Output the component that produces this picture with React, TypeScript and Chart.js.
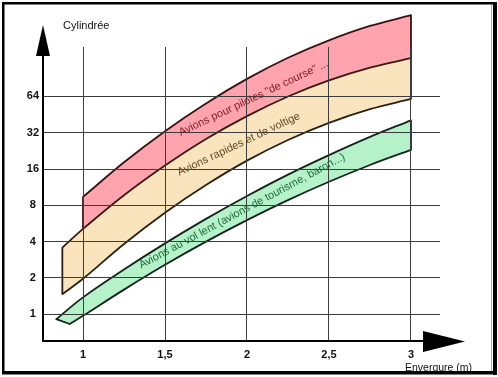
import React, { useEffect, useRef } from 'react';
import { Chart, registerables } from 'chart.js';

Chart.register(...registerables);

const FONT = '"Liberation Sans", Arial, Helvetica, sans-serif';

// x = wingspan (m), y = engine displacement (cm3), log2 axis
const spanX = [1, 1.25, 1.5, 1.75, 2, 2.25, 2.5, 2.75, 3];
const redUpper = [9.4, 18.2, 33, 56, 89.5, 134, 187, 246, 302];
const redLower = [5.1, 9.7, 17.1, 28.4, 44, 64, 87, 111, 133];

const beigeUpperX = [0.874, 1, 1.25, 1.5, 1.75, 2, 2.25, 2.5, 2.75, 3];
const beigeUpper = [3.57, 5.1, 9.7, 17.1, 28.4, 44, 64, 87, 111, 133];
const beigeLowerX = [0.874, 1, 1.25, 1.5, 1.75, 2, 2.25, 2.5, 2.75, 3];
const beigeLower = [1.47, 1.97, 3.83, 6.96, 11.8, 18.8, 27.9, 38.7, 50.3, 61.1];

const greenUpperX = [0.837, 1, 1.25, 1.5, 1.75, 2, 2.25, 2.5, 2.75, 3];
const greenUpper = [0.91, 1.38, 2.35, 3.87, 6.18, 9.57, 14.4, 20.9, 29.6, 40.6];
const greenLowerX = [0.919, 1, 1.25, 1.5, 1.75, 2, 2.25, 2.5, 2.75, 3];
const greenLower = [0.83, 0.97, 1.6, 2.57, 4.0, 6.03, 8.84, 12.55, 17.3, 23.1];

const xTicks = [1, 1.5, 2, 2.5, 3];
const xTickLabels = ['1', '1,5', '2', '2,5', '3'];
const yTicks = [1, 2, 4, 8, 16, 32, 64];
const yTickLabels = ['1', '2', '4', '8', '16', '32', '64'];

const bandTexts = [
  'Avions pour pilotes "de course" ...',
  'Avions rapides et de voltige',
  'Avions au vol lent (avions de tourisme, baron...)',
];
const bandTextX = [2.04, 1.95, 1.97];
const bandTextY = [62, 25.7, 7.17];
const bandTextAngle = [-25.3, -25.3, -28.2];
const bandTextColor = ['#7d1c2a', '#5e4b2c', '#1f6b3d'];

const BANDS = [
  { upper: 2, lower: 3, fill: '#F9E4BE', edge: '#2e2214' },
  { upper: 0, lower: 1, fill: '#FFA4AE', edge: '#3a1212' },
  { upper: 4, lower: 5, fill: '#B6F2C9', edge: '#14231a' },
];

const pts = (xs: number[], ys: number[]) => xs.map((x, i) => ({ x, y: ys[i] }));

const mk = (label: string, xs: number[], ys: number[], color: string, bw: number) => ({
  label,
  data: pts(xs, ys),
  borderColor: color,
  borderWidth: bw,
  pointRadius: 0,
  pointHoverRadius: 0,
  tension: 0.35,
  fill: false,
  clip: false as any,
  capBezierPoints: false,
});

const bandPlugin = {
  id: 'bands',
  beforeDatasetsDraw(chart: any) {
    const ctx = chart.ctx;
    for (const band of BANDS) {
      const up = chart.getDatasetMeta(band.upper).dataset;
      const lo = chart.getDatasetMeta(band.lower).dataset;
      up.updateControlPoints(chart.chartArea, 'x');
      lo.updateControlPoints(chart.chartArea, 'x');
      ctx.save();
      ctx.beginPath();
      up.pathSegment(ctx, up.segments[0], { move: true });
      lo.pathSegment(ctx, lo.segments[0], { move: false, reverse: true });
      ctx.closePath();
      ctx.fillStyle = band.fill;
      ctx.fill();
      const up0 = up.points[0];
      const upN = up.points[up.points.length - 1];
      const lo0 = lo.points[0];
      const loN = lo.points[lo.points.length - 1];
      ctx.beginPath();
      ctx.moveTo(upN.x, upN.y);
      ctx.lineTo(loN.x, loN.y);
      ctx.moveTo(up0.x, up0.y);
      ctx.lineTo(lo0.x, lo0.y);
      ctx.strokeStyle = band.edge;
      ctx.lineWidth = 1.8;
      ctx.lineCap = 'round';
      ctx.stroke();
      ctx.restore();
    }
  },
};

const decoPlugin = {
  id: 'deco',
  afterDraw(chart: any) {
    const ctx = chart.ctx;
    const { left, bottom } = chart.chartArea;
    const xs = chart.scales.x;
    const ys = chart.scales.y;
    ctx.save();

    // band labels
    bandTexts.forEach((t, i) => {
      const px = xs.getPixelForValue(bandTextX[i]);
      const py = ys.getPixelForValue(bandTextY[i]);
      ctx.save();
      ctx.translate(px, py);
      ctx.rotate((bandTextAngle[i] * Math.PI) / 180);
      ctx.font = `11px ${FONT}`;
      ctx.fillStyle = bandTextColor[i];
      ctx.textAlign = 'center';
      ctx.textBaseline = 'middle';
      ctx.fillText(t, 0, 0);
      ctx.restore();
    });

    // axes
    ctx.strokeStyle = '#000';
    ctx.fillStyle = '#000';
    ctx.lineWidth = 2;
    ctx.beginPath();
    ctx.moveTo(left, bottom);
    ctx.lineTo(left, 45);
    ctx.moveTo(left - 1, bottom);
    ctx.lineTo(430, bottom);
    ctx.stroke();
    // y arrow
    ctx.beginPath();
    ctx.moveTo(left, 25);
    ctx.lineTo(left - 7, 56);
    ctx.lineTo(left + 7, 56);
    ctx.closePath();
    ctx.fill();
    // x arrow
    ctx.beginPath();
    ctx.moveTo(465, bottom + 0.5);
    ctx.lineTo(423, bottom - 10);
    ctx.lineTo(423, bottom + 11);
    ctx.closePath();
    ctx.fill();

    // titles
    ctx.font = `11px ${FONT}`;
    ctx.textAlign = 'left';
    ctx.textBaseline = 'middle';
    ctx.fillStyle = '#111';
    ctx.fillText('Cylindrée', 63, 26);
    ctx.font = `10.5px ${FONT}`;
    ctx.textBaseline = 'alphabetic';
    ctx.fillText('Envergure (m)', 405, 371);

    // frame
    ctx.fillStyle = '#000';
    ctx.fillRect(2, 2, 495, 2.5);
    ctx.fillRect(2, 2, 2.5, 372);
    ctx.fillRect(493, 2, 4, 373);
    ctx.fillRect(2, 371, 495, 3.5);
    ctx.fillStyle = '#aaa';
    ctx.fillRect(491, 5, 1, 366);
    ctx.restore();
  },
};

export default function App() {
  const ref = useRef<HTMLCanvasElement>(null);

  useEffect(() => {
    if (!ref.current) return;
    const chart = new Chart(ref.current, {
      type: 'line',
      data: {
        datasets: [
          mk('redUpper', spanX, redUpper, '#3a1212', 1.8),
          mk('redLower', spanX, redLower, '#3a1212', 0),
          mk('beigeUpper', beigeUpperX, beigeUpper, '#3a1a12', 1.8),
          mk('beigeLower', beigeLowerX, beigeLower, '#2a2014', 1.8),
          mk('greenUpper', greenUpperX, greenUpper, '#14231a', 1.8),
          mk('greenLower', greenLowerX, greenLower, '#14231a', 1.8),
        ] as any,
      },
      options: {
        responsive: false,
        animation: false,
        devicePixelRatio: 1,
        events: [],
        layout: { padding: { left: 0, top: 47, right: 58, bottom: 0 } },
        elements: { line: { capBezierPoints: false } },
        plugins: {
          legend: { display: false },
          tooltip: { enabled: false },
          title: { display: false },
        },
        scales: {
          x: {
            type: 'linear',
            min: 0.756,
            max: 3.177,
            afterBuildTicks: (s: any) => {
              s.ticks = xTicks.map((v) => ({ value: v }));
            },
            afterFit: (s: any) => {
              s.height = 36;
            },
            ticks: {
              autoSkip: false,
              maxRotation: 0,
              padding: 7,
              color: '#111',
              font: { family: FONT, size: 11, weight: 'bold' },
              callback: (_v: any, i: number) => xTickLabels[i],
            },
            grid: { color: '#3c3c3c', lineWidth: 1, drawTicks: false, z: 1 },
            border: { display: false },
          },
          y: {
            type: 'logarithmic',
            min: 0.629,
            max: 164.6,
            afterBuildTicks: (s: any) => {
              s.ticks = yTicks.map((v) => ({ value: v }));
            },
            afterFit: (s: any) => {
              s.width = 43;
            },
            ticks: {
              autoSkip: false,
              padding: 4,
              crossAlign: 'center',
              color: '#111',
              font: { family: FONT, size: 11, weight: 'bold' },
              callback: (_v: any, i: number) => yTickLabels[i],
            },
            grid: { color: '#3c3c3c', lineWidth: 1, drawTicks: false, z: 1 },
            border: { display: false },
          },
        },
      } as any,
      plugins: [bandPlugin, decoPlugin],
    });
    return () => chart.destroy();
  }, []);

  return (
    <div style={{ position: 'absolute', left: 0, top: 0, width: 498, height: 377, background: '#fff' }}>
      <canvas ref={ref} width={498} height={377} style={{ display: 'block', width: 498, height: 377 }} />
    </div>
  );
}
